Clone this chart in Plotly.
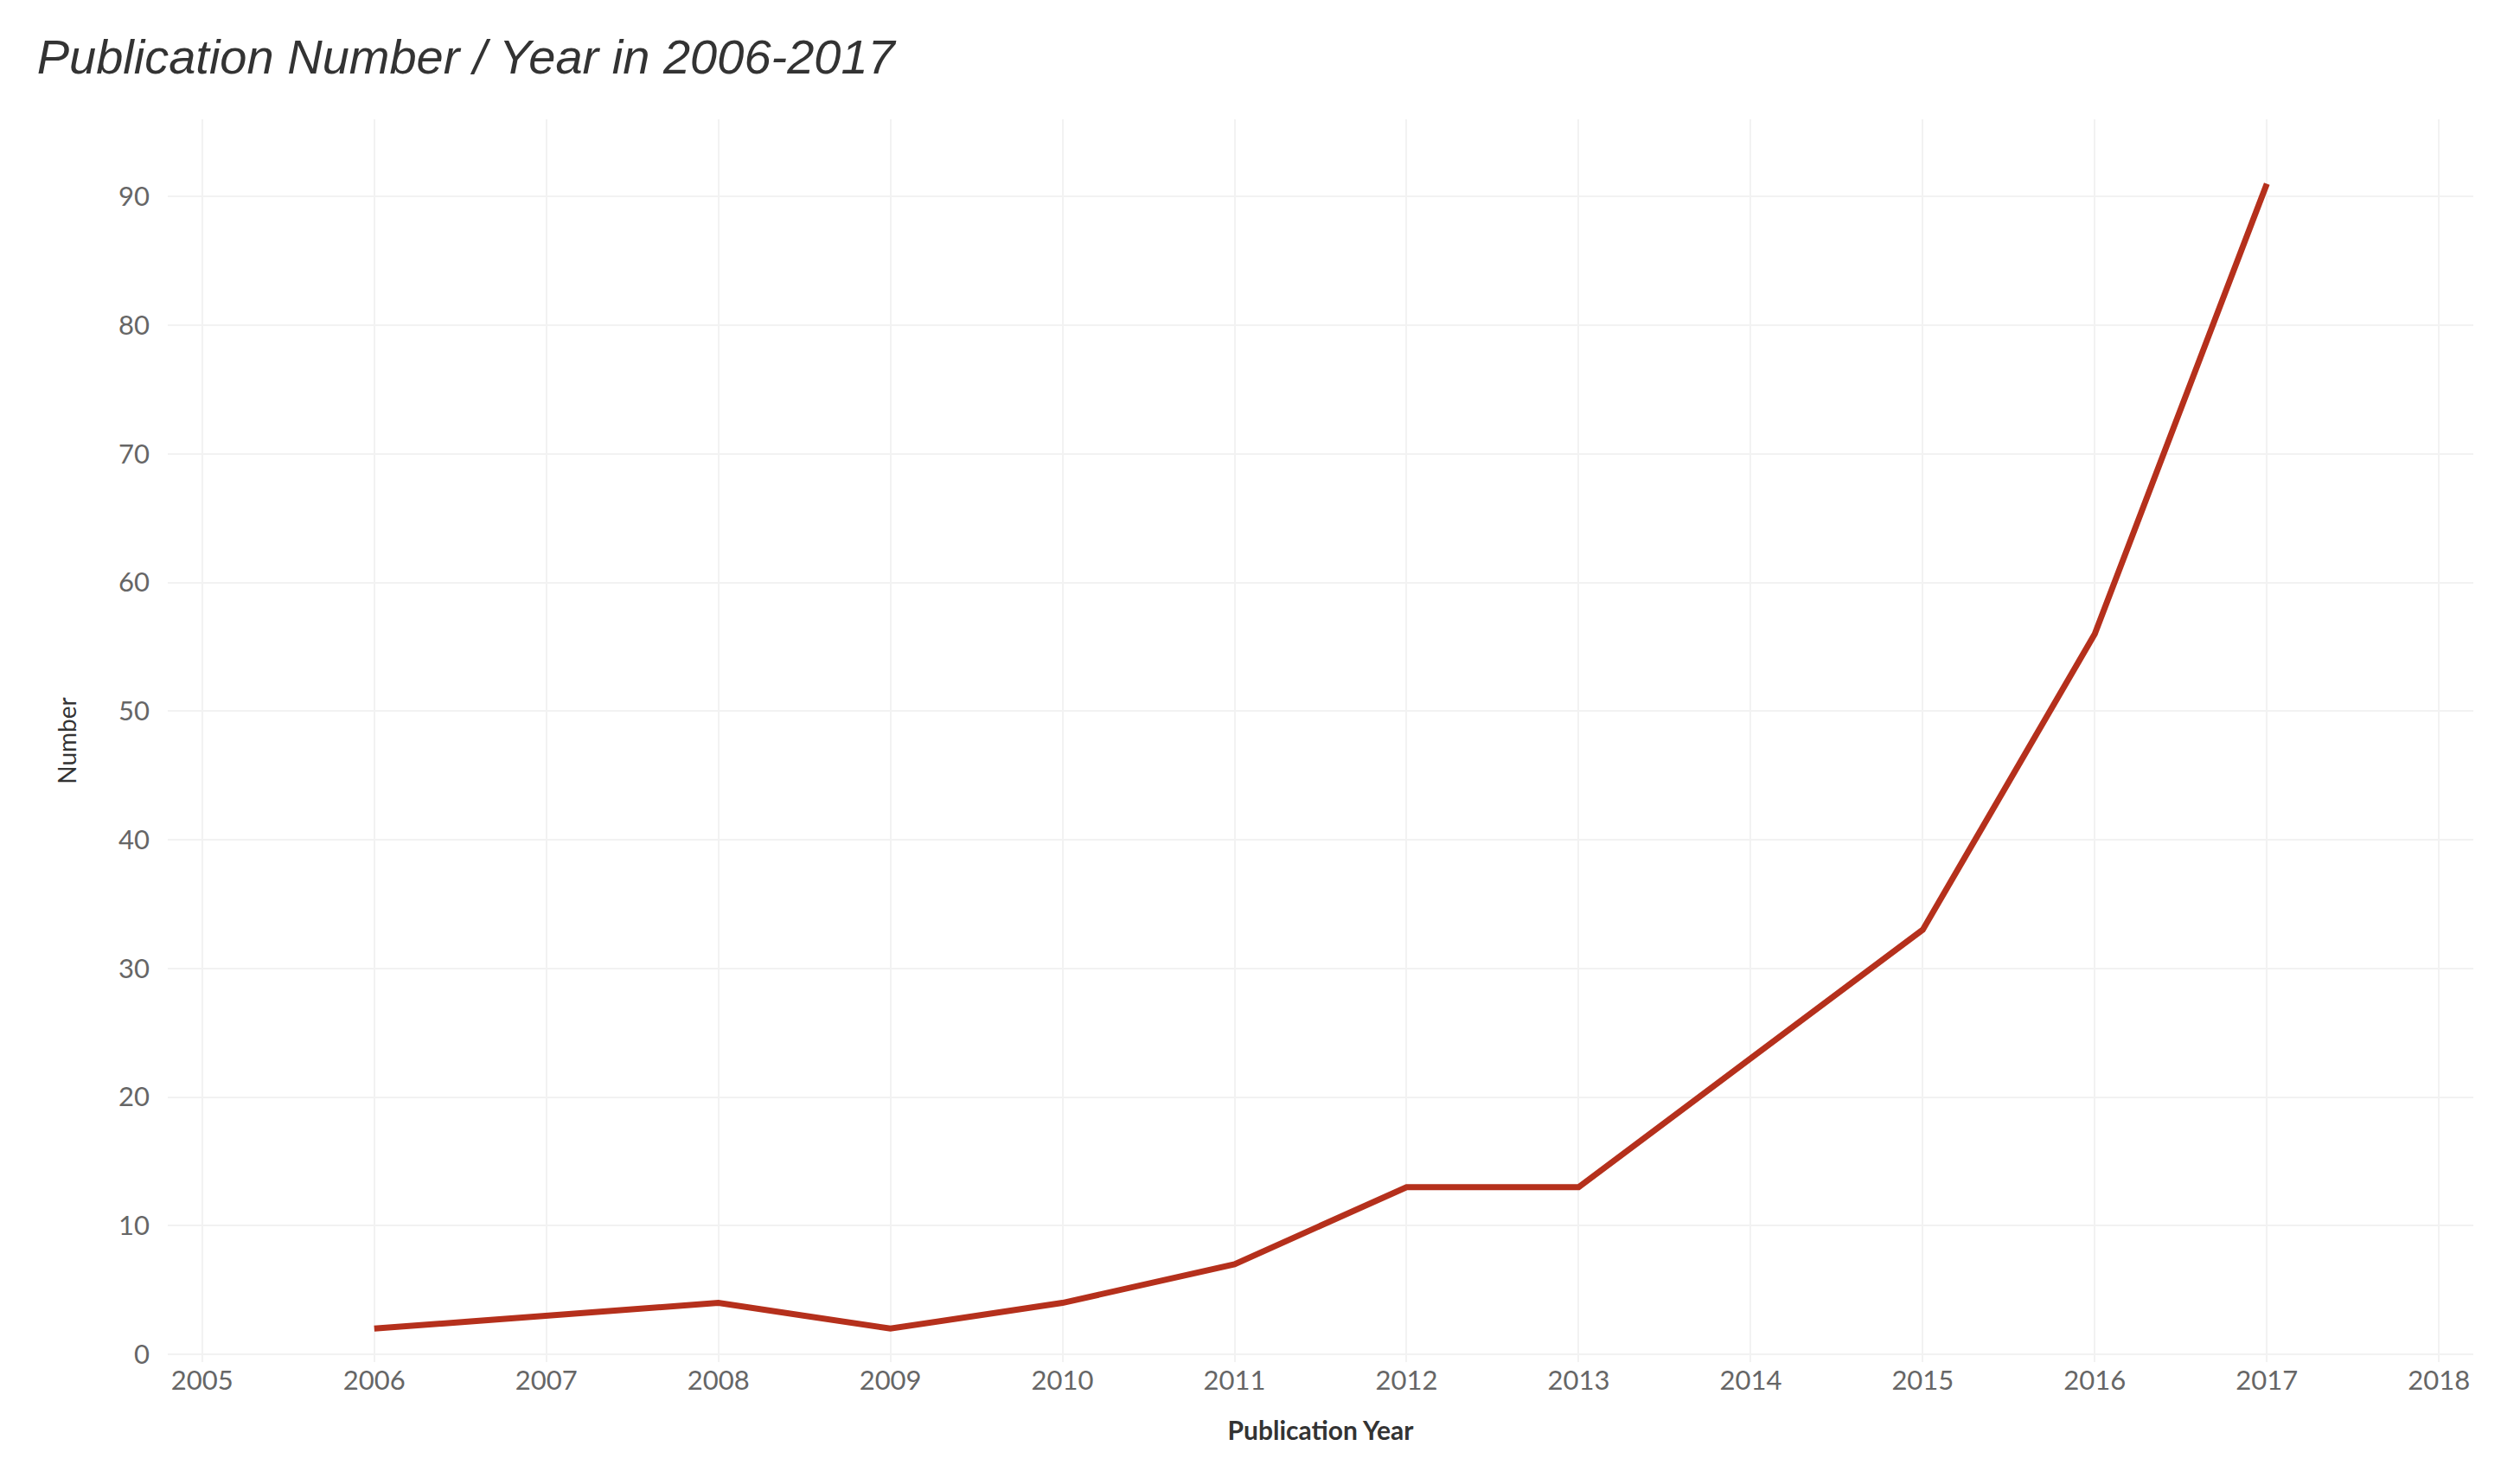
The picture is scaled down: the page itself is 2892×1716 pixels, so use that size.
import plotly.graph_objects as go

years = [2006, 2007, 2008, 2009, 2010, 2011, 2012, 2013, 2014, 2015, 2016, 2017]
counts = [2, 3, 4, 2, 4, 7, 13, 13, 23, 33, 56, 91]
x_ticks = list(range(2005, 2019))
y_ticks = [0, 10, 20, 30, 40, 50, 60, 70, 80, 90]

fig = go.Figure()
fig.add_trace(go.Scatter(
    x=years, y=counts, mode="lines",
    line=dict(color="#b5301c", width=7),
    showlegend=False))

fig.update_layout(
    width=2892, height=1716,
    paper_bgcolor="white", plot_bgcolor="white",
    margin=dict(l=186, r=40, t=130, b=149),
    font=dict(family="Lato, Open Sans, sans-serif", color="#666666"),
    title=dict(text="<i>Publication Number / Year in 2006-2017</i>",
               x=0.012, xanchor="left", y=0.978, yanchor="top",
               font=dict(size=56, color="#333333", family="Liberation Sans, Arial")),
)
fig.update_xaxes(
    range=[2004.8, 2018.2], tickvals=x_ticks,
    tickfont=dict(size=31, color="#666666"),
    showgrid=True, gridcolor="#f2f2f2", gridwidth=2,
    zeroline=False, showline=False, ticks="",
    title=dict(text="<b>Publication Year</b>", font=dict(size=30, color="#333333"), standoff=30))
fig.update_yaxes(
    range=[-0.6, 96], tickvals=y_ticks,
    tickfont=dict(size=31, color="#666666"),
    showgrid=True, gridcolor="#f2f2f2", gridwidth=2,
    zeroline=False, showline=False, ticks="", ticklabelstandoff=20,
    title=dict(text="Number", font=dict(size=28, color="#333333"), standoff=40))

fig.write_html("out.html")
